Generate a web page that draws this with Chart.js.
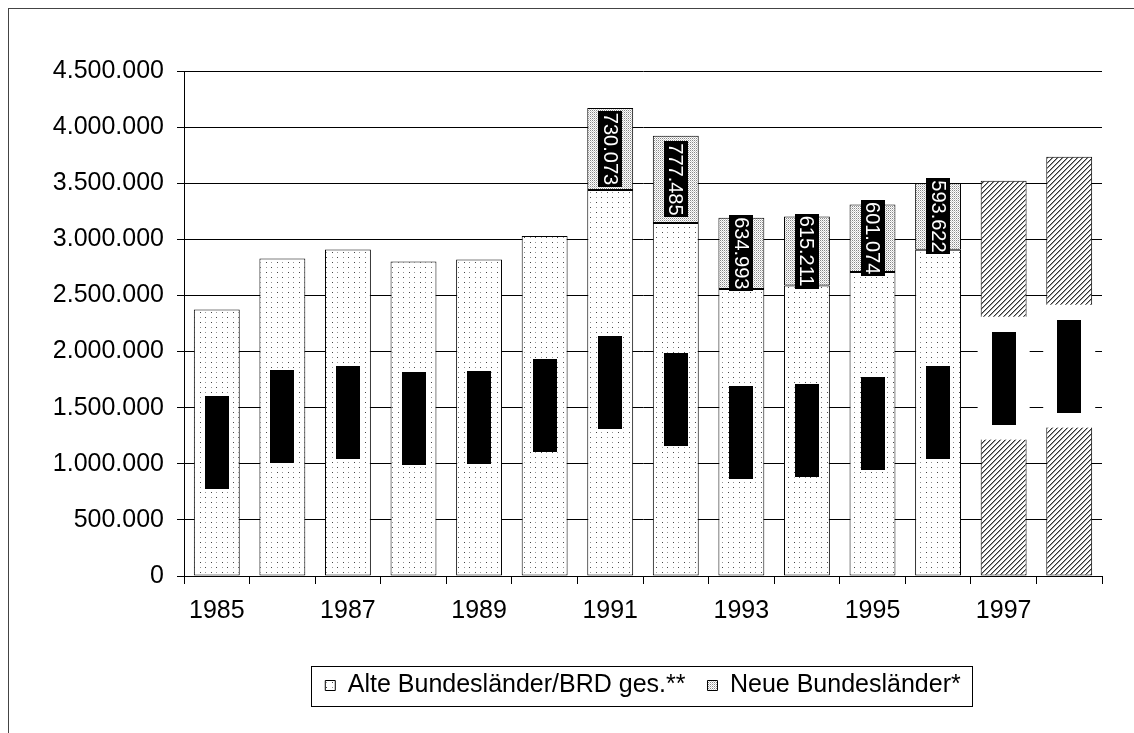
<!DOCTYPE html>
<html>
<head>
<meta charset="utf-8">
<script src="https://cdn.jsdelivr.net/npm/chart.js@4"></script>
<style>
    html, body { margin: 0; padding: 0; background: #fff; }
    #wrap { width: 1134px; height: 733px; }
</style>
</head>
<body>
<div id="wrap"><canvas id="chart"></canvas></div>
<script>
const jahre = ["1985", "1986", "1987", "1988", "1989", "1990", "1991", "1992", "1993", "1994", "1995", "1996", "1997", "1998"];
const alteLaender = [2375000, 2830000, 2910000, 2803000, 2821000, 3030000, 3440000, 3145000, 2558000, 2588000, 2710000, 2907000, 3521000, 3735000];
const neueLaender = [null, null, null, null, null, null, 730073, 777485, 634993, 615211, 601074, 593622, null, null];
const prognoseJahre = ["1997", "1998"];
const yTicks = [0, 500000, 1000000, 1500000, 2000000, 2500000, 3000000, 3500000, 4000000, 4500000];

const schrift = '"Liberation Sans", Arial, sans-serif';

function fmt(v) {
    return String(v).replace(/\B(?=(\d{3})+(?!\d))/g, ".");
}

function muster(w, h, draw) {
    const c = document.createElement("canvas");
    c.width = w; c.height = h;
    const g = c.getContext("2d");
    g.fillStyle = "#fff";
    g.fillRect(0, 0, w, h);
    draw(g);
    return g.createPattern(c, "repeat");
}

// Alte Bundesländer: lockere Punkte
const punkte = muster(11, 10, g => {
    g.fillStyle = "#444";
    g.fillRect(2, 2, 1, 1);
    g.fillRect(7, 7, 1, 1);
    g.fillStyle = "#999";
    g.fillRect(7, 2, 1, 1);
    g.fillRect(2, 7, 1, 1);
});
// Neue Bundesländer: dichte Punkte
const dicht = muster(2, 2, g => {
    g.fillStyle = "#888";
    g.fillRect(0, 0, 1, 1);
    g.fillStyle = "#ccc";
    g.fillRect(1, 1, 1, 1);
});
// Prognose: schraffiert
const schraffur = muster(5, 5, g => {
    for (let i = 0; i < 5; i++) {
        g.fillStyle = "#333";
        g.fillRect(i, 4 - i, 1, 1);
        g.fillStyle = "#999";
        g.fillRect(i, (5 - i) % 5, 1, 1);
    }
});

const istPrognose = i => prognoseJahre.includes(jahre[i]);

const rahmen = {
    id: "rahmen",
    beforeDraw(chart) {
        const ctx = chart.ctx;
        ctx.save();
        ctx.fillStyle = "#fff";
        ctx.fillRect(0, 0, chart.width, chart.height);
        ctx.strokeStyle = "#444";
        ctx.lineWidth = 1;
        ctx.strokeRect(8.5, 8.5, chart.width + 20, chart.height + 20);
        ctx.restore();
    },
    afterDraw(chart) {
        const boxes = chart.legend.legendHitBoxes;
        if (!boxes || !boxes.length) return;
        const l = Math.min(...boxes.map(b => b.left)) - 14;
        const r = Math.max(...boxes.map(b => b.left + b.width)) + 12;
        const mitte = boxes[0].top + boxes[0].height / 2;
        const ctx = chart.ctx;
        ctx.save();
        ctx.strokeStyle = "#000";
        ctx.lineWidth = 1;
        ctx.strokeRect(Math.round(l) + 0.5, Math.round(mitte - 20) + 0.5, Math.round(r - l), 40);
        ctx.restore();
    }
};

const wertBeschriftung = {
    id: "wertBeschriftung",
    afterDatasetsDraw(chart) {
        const ctx = chart.ctx;
        chart.data.datasets.forEach((ds, di) => {
            const meta = chart.getDatasetMeta(di);
            meta.data.forEach((bar, i) => {
                const v = ds.data[i];
                if (v == null) return;
                const text = fmt(v);
                ctx.save();
                ctx.font = "20px " + schrift;
                const h = ctx.measureText(text).width + 4;
                const w = 24;
                const cx = bar.x;
                const cy = (bar.y + bar.base) / 2;
                if (istPrognose(i)) {
                    ctx.fillStyle = "#fff";
                    ctx.fillRect(cx - w / 2 - 14, cy - h / 2 - 15, w + 28, h + 30);
                }
                ctx.fillStyle = "#000";
                ctx.fillRect(Math.round(cx - w / 2), Math.round(cy - h / 2), w, Math.round(h));
                ctx.translate(cx, cy);
                ctx.rotate(Math.PI / 2);
                ctx.fillStyle = di === 0 ? "#000" : "#fff";
                ctx.textAlign = "center";
                ctx.textBaseline = "middle";
                ctx.fillText(text, 0, 1);
                ctx.restore();
            });
        });
    }
};

new Chart(document.getElementById("chart").getContext("2d"), {
    type: "bar",
    data: {
        labels: jahre,
        datasets: [
            {
                label: "Alte Bundesländer/BRD ges.**",
                data: alteLaender,
                backgroundColor: c => (c.dataIndex !== undefined && istPrognose(c.dataIndex)) ? schraffur : punkte,
                borderColor: "#000",
                borderWidth: 1,
                borderSkipped: false,
                barPercentage: 0.7,
                categoryPercentage: 1.0,
            },
            {
                label: "Neue Bundesländer*",
                data: neueLaender,
                backgroundColor: dicht,
                borderColor: "#000",
                borderWidth: 1,
                borderSkipped: false,
                barPercentage: 0.7,
                categoryPercentage: 1.0,
            },
        ],
    },
    options: {
        responsive: true,
        maintainAspectRatio: false,
        animation: false,
        layout: { padding: { top: 71, right: 32, bottom: 25, left: 0 } },
        plugins: {
            legend: {
                position: "bottom",
                fullSize: false,
                labels: {
                    color: "#000",
                    font: { family: schrift, size: 25 },
                    boxWidth: 10,
                    boxHeight: 10,
                    padding: 22,
                },
            },
            tooltip: { enabled: false },
        },
        scales: {
            x: {
                stacked: true,
                offset: true,
                grid: { offset: true, drawOnChartArea: false, tickLength: 8, color: "#000" },
                border: { color: "#000" },
                ticks: {
                    autoSkip: false,
                    maxRotation: 0,
                    padding: 12,
                    color: "#000",
                    font: { family: schrift, size: 25 },
                    callback: (v, i) => (i % 2 === 0 ? jahre[i] : ""),
                },
                afterFit: s => { s.height = 75; },
            },
            y: {
                stacked: true,
                min: 0,
                max: 4500000,
                afterBuildTicks: s => { s.ticks = yTicks.map(v => ({ value: v })); },
                grid: { color: "#000", tickLength: 7 },
                border: { color: "#000" },
                ticks: {
                    padding: 13,
                    color: "#000",
                    font: { family: schrift, size: 25 },
                    callback: v => fmt(v),
                },
                afterFit: s => { s.width = 184; },
            },
        },
    },
    plugins: [rahmen, wertBeschriftung],
});
</script>
</body>
</html>
